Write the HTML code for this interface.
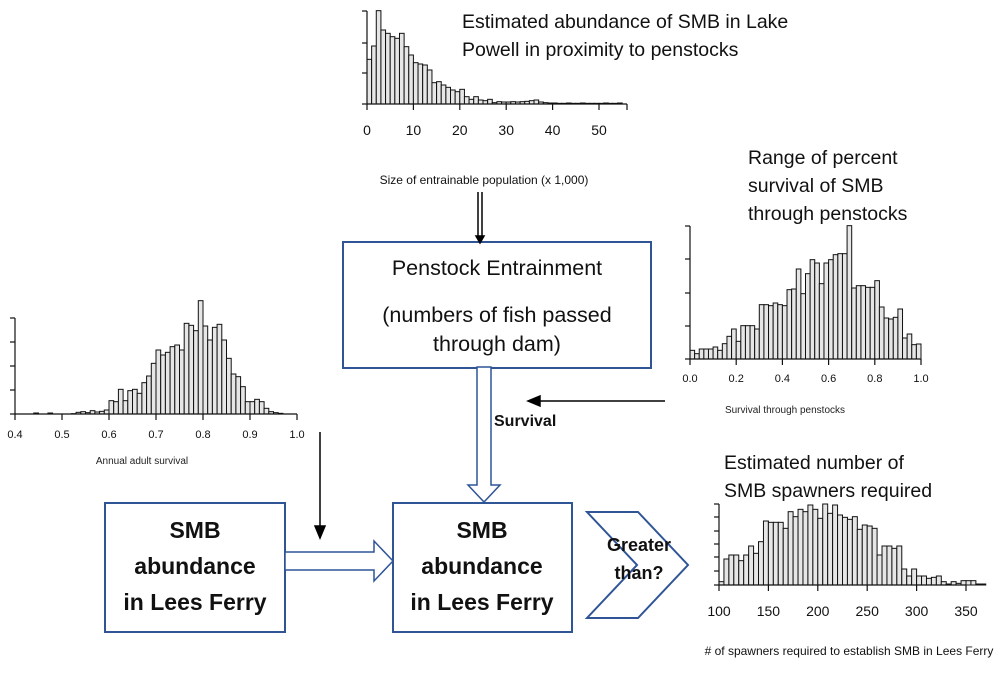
<!DOCTYPE html>
<html><head><meta charset="utf-8"><style>
body{margin:0;background:#fff;}
svg{display:block;font-family:"Liberation Sans",sans-serif;}
.t{font-size:19.5px;fill:#111;}
.b{font-weight:bold;fill:#111;}
</style></head><body>
<svg id="s" width="1000" height="694" viewBox="0 0 1000 694" xmlns="http://www.w3.org/2000/svg">
<g fill="none" stroke="#2f5597" stroke-width="2">
<rect x="343" y="242" width="308" height="126"/>
<rect x="105" y="503" width="180" height="129"/>
<rect x="393" y="503" width="179" height="129"/>
<polygon points="587,512 638,512 688,565 638,618 587,618 637,565" fill="#fff"/>
<polygon points="477,367 491,367 491,485 500,485 484,502 468,485 477,485" fill="#fff" stroke-width="1.5"/>
<polygon points="285,552 374,552 374,541 393,561 374,581 374,570 285,570" fill="#fff" stroke-width="1.5"/>
</g>
<g stroke="#000" stroke-width="1.5" fill="#000">
<line x1="478" y1="192" x2="478" y2="238"/><line x1="482" y1="192" x2="482" y2="238"/>
<polygon points="476,236 484,236 480,243"/>
<line x1="665" y1="401" x2="535" y2="401"/><polygon points="540,396 540,406 528,401"/>
<line x1="320" y1="432" x2="320" y2="527"/><polygon points="315,526 325,526 320,538"/>
</g>
<g id="h"></g>
<text class="t" x="462" y="28">Estimated abundance of SMB in Lake</text>
<text class="t" x="462" y="56">Powell in proximity to penstocks</text>
<text class="t" x="748" y="164">Range of percent</text>
<text class="t" x="748" y="192">survival of SMB</text>
<text class="t" x="748" y="220">through penstocks</text>
<text class="t" x="724" y="469">Estimated number of</text>
<text class="t" x="724" y="497">SMB spawners required</text>
<g class="t" text-anchor="middle" style="font-size:21.5px">
<text x="497" y="275">Penstock Entrainment</text>
<text x="497" y="322">(numbers of fish passed</text>
<text x="497" y="351">through dam)</text>
</g>
<text class="b" x="494" y="426" style="font-size:16px">Survival</text>
<g class="b" text-anchor="middle" style="font-size:23px">
<text x="195" y="538">SMB</text><text x="195" y="574">abundance</text><text x="195" y="610">in Lees Ferry</text>
<text x="482" y="538">SMB</text><text x="482" y="574">abundance</text><text x="482" y="610">in Lees Ferry</text>
</g>
<g class="b" text-anchor="middle" style="font-size:18px">
<text x="639" y="551">Greater</text><text x="639" y="579">than?</text>
</g>
<text x="484" y="184" text-anchor="middle" style="font-size:12px" fill="#111">Size of entrainable population (x 1,000)</text>
<text x="785" y="413" text-anchor="middle" style="font-size:10px" fill="#222">Survival through penstocks</text>
<text x="142" y="464" text-anchor="middle" style="font-size:10px" fill="#222">Annual adult survival</text>
<text x="849" y="655" text-anchor="middle" style="font-size:12px" fill="#111"># of spawners required to establish SMB in Lees Ferry</text>
</svg>
<script>
var g=document.getElementById('h'),o='';
function hist(x0,bw,base,sc,tops,zb,yx,yt,xt,tlab,fs,yl){
 tops.forEach(function(t,i){var h=(zb-t)/3*sc;if(h>0.3)o+='<rect x="'+(x0+i*bw).toFixed(2)+'" y="'+(base-h).toFixed(2)+'" width="'+bw.toFixed(2)+'" height="'+h.toFixed(2)+'" fill="#e6e6e6" stroke="#111" stroke-width="1"/>';});
 o+='<line x1="'+yx+'" y1="'+yt[0]+'" x2="'+yx+'" y2="'+yt[yt.length-1]+'" stroke="#111" stroke-width="1.2"/>';
 yt.forEach(function(y){o+='<line x1="'+(yx-5)+'" y1="'+y+'" x2="'+yx+'" y2="'+y+'" stroke="#111" stroke-width="1.2"/>';});
 o+='<line x1="'+xt[0]+'" y1="'+base+'" x2="'+xt[xt.length-1]+'" y2="'+base+'" stroke="#111" stroke-width="1.2"/>';
 xt.forEach(function(x,i){o+='<line x1="'+x+'" y1="'+base+'" x2="'+x+'" y2="'+(base+6)+'" stroke="#111" stroke-width="1.2"/>';if(tlab[i]!==undefined&&tlab[i]!=='')o+='<text x="'+x+'" y="'+(base+yl)+'" text-anchor="middle" style="font-size:'+fs+'px" fill="#111">'+tlab[i]+'</text>';});
}
hist(367,4.64,104,1,[178,138,32,90,100,110,115,100,140,165,188,192,195,210,248,245,255,262,270,275,268,290,298,290,300,302,298,308,305,306,306,305,306,305,304,302,300,306,308,309,309,310,310,309,310,310,309,310,310,310,310,309,310,310,309],312,367,[11,43,73,104],[367,413.4,459.8,506.2,552.6,599,627],['0','10','20','30','40','50',''],14,31);
hist(690,4.62,359,1,[422,432,418,418,418,412,422,402,380,358,395,348,348,348,358,285,285,288,280,285,288,240,238,178,252,192,150,160,222,160,150,135,132,132,48,235,228,228,233,233,213,292,325,328,323,298,385,373,405,403],448,690,[226,259,293,326,359],[690,736.2,782.4,828.6,874.8,921],['0.0','0.2','0.4','0.6','0.8','1.0'],11,23);
var L=[];for(var i=0;i<60;i++)L.push(372);
[[4,369],[7,369],[12,371],[13,367],[14,365],[15,368],[16,362],[17,366],[18,364],[19,360],[20,355]].forEach(function(p){L[p[0]]=p[1];});
var tail=[332,335,298,332,302,298,310,278,258,220,180,195,187,170,165,180,100,106,122,32,108,150,112,103,150,205,252,260,290,335,335,328,335,355,365,368,370];
tail.forEach(function(t,i){L[20+i]=t;});
hist(15,4.7,414,1,L,372,15,[318,342,366,390,414],[15,62,109,156,203,250,297],['0.4','0.5','0.6','0.7','0.8','0.9','1.0'],11,24);
hist(719,4.94,585,1,[275,207,195,195,212,195,168,190,155,93,97,97,97,115,65,80,58,65,45,58,85,42,70,45,75,82,88,80,118,105,108,115,195,168,168,175,168,237,258,237,258,258,265,262,258,275,282,275,280,272,272,272,282,282],285,719,[504,517,531,544,557,571,585],[719,768.4,817.8,867.2,916.6,966],['100','150','200','250','300','350'],14,31);
g.innerHTML=o;
</script>
</body></html>
